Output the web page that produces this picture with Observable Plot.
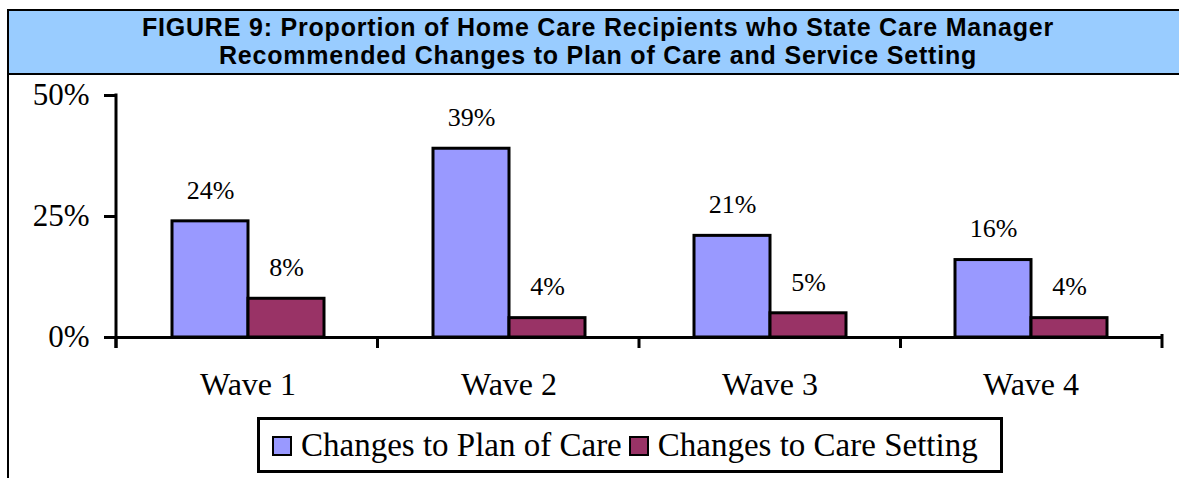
<!DOCTYPE html>
<html>
<head>
<meta charset="utf-8">
<script src="https://cdn.jsdelivr.net/npm/d3@7"></script>
<script src="https://cdn.jsdelivr.net/npm/@observablehq/plot@0.6"></script>
<style>
  html, body { margin: 0; padding: 0; background: #fff; }
  body { width: 1179px; height: 478px; position: relative; overflow: hidden; }
  #title {
    position: absolute; left: 7px; top: 9px; width: 1190px; height: 60px;
    background: #99CCFF; border: 2px solid #000; box-sizing: content-box;
    font-family: "Liberation Sans", Arial, sans-serif; font-weight: bold;
    font-size: 25px; line-height: 28px; letter-spacing: 0.8px; text-align: center; color: #000;
    padding-top: 2px;
  }
  #title div { width: 1178px; white-space: nowrap; }
  #leftline { position: absolute; left: 7px; top: 72px; width: 2px; height: 406px; background: #000; }
  #chart { position: absolute; left: 0; top: 74px; }
  #legend {
    position: absolute; left: 257px; top: 417px; width: 740px; height: 50px;
    border: 3px solid #000; background: #fff;
    font-family: "Liberation Serif", "Times New Roman", serif; font-size: 33px;
    display: flex; align-items: center; white-space: nowrap;
  }
  #legend .item { display: flex; align-items: center; }
  #legend .sw { width: 16px; height: 16px; border: 2px solid #000; margin: 2px 9px 0 12px; }
  #legend .item + .item .sw { margin-left: 7px; }
  g[aria-label^="y-axis"] text { font-size: 31px; }
  g[aria-label^="fx-axis"] text { font-size: 32px; }
  g[aria-label^="y-axis"] line, g[aria-label^="y-axis"] path { stroke-width: 3px; stroke: #000; }
</style>
</head>
<body>
<div id="title"><div>FIGURE 9: Proportion of Home Care Recipients who State Care Manager</div><div>Recommended Changes to Plan of Care and Service Setting</div></div>
<div id="leftline"></div>
<div id="chart"></div>
<div id="legend"></div>
<script>
const waves = ["Wave 1", "Wave 2", "Wave 3", "Wave 4"];
const series = ["Changes to Plan of Care", "Changes to Care Setting"];
const colors = ["#9999FF", "#993366"];
const planOfCare = [24, 39, 21, 16];
const careSetting = [8, 4, 5, 4];
const yTicks = [0, 25, 50];

const data = [];
waves.forEach((w, i) => {
  data.push({wave: w, series: series[0], value: planOfCare[i]});
  data.push({wave: w, series: series[1], value: careSetting[i]});
});

const plot = Plot.plot({
  width: 1179,
  height: 336,
  marginLeft: 116,
  marginRight: 17,
  marginTop: 21,
  marginBottom: 73,
  style: {fontFamily: "'Liberation Serif', 'Times New Roman', serif", fontSize: "26px", color: "#000", background: "transparent"},
  facet: {data, x: "wave"},
  fx: {domain: waves, padding: 0, label: null, axis: "bottom", tickSize: 0, tickPadding: 35},
  x: {domain: series, paddingInner: 0, paddingOuter: 0.7, axis: null},
  y: {domain: [0, 50], ticks: yTicks, tickFormat: d => d + "%", tickSize: 13, tickPadding: 15, label: null},
  color: {domain: series, range: colors},
  marks: [
    Plot.barY(data, {x: "series", y: "value", fill: "series", stroke: "#000", strokeWidth: 3}),
    Plot.text(data, {x: "series", y: "value", text: d => d.value + "%", dy: -31, fontSize: 26}),
    Plot.ruleY([0], {stroke: "#000", strokeWidth: 3})
  ]
});
document.getElementById("chart").appendChild(plot);

// axis line and category boundary ticks, from the plot's own scales
const fxS = plot.scale("fx");
const yS = plot.scale("y");
const yLin = d3.scaleLinear(yS.domain, yS.range);
const [r0, r1] = fxS.range;
const step = (r1 - r0) / waves.length;
const y0 = yLin(0);
const svg = d3.select(plot.tagName.toLowerCase() === "svg" ? plot : plot.querySelector("svg"));
const g = svg.append("g").attr("stroke", "#000").attr("stroke-width", 3);
g.append("line").attr("x1", r0).attr("x2", r0).attr("y1", yLin(50) - 1.5).attr("y2", y0 + 11);
d3.range(waves.length + 1).forEach(i => {
  const x = r0 + i * step;
  g.append("line").attr("x1", x).attr("x2", x).attr("y1", y0 - (i === waves.length ? 3 : 0)).attr("y2", y0 + 11);
});

// legend
const legend = d3.select("#legend");
series.forEach((s, i) => {
  const it = legend.append("div").attr("class", "item");
  it.append("div").attr("class", "sw").style("background", colors[i]);
  it.append("span").text(s);
});
</script>
</body>
</html>
